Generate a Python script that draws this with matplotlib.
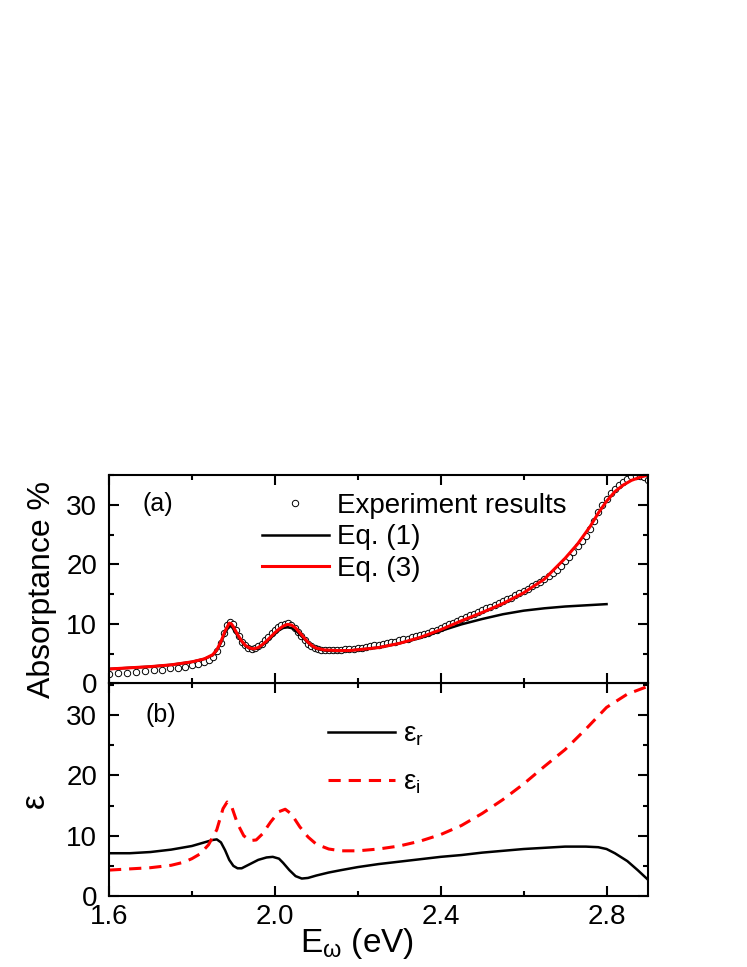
import matplotlib
matplotlib.use("Agg")
import matplotlib.pyplot as plt
from matplotlib.ticker import MultipleLocator

plt.rcParams['font.family'] = ['Liberation Sans', 'DejaVu Sans']
plt.rcParams['mathtext.fontset'] = 'custom'
plt.rcParams['mathtext.rm'] = 'Liberation Sans'
plt.rcParams['mathtext.it'] = 'Liberation Sans:italic'

# ---------------- data: panel (a) ----------------
E_exp = [1.600, 1.622, 1.644, 1.666, 1.688, 1.708, 1.728, 1.748, 1.766, 1.784,
         1.800, 1.815, 1.828, 1.840, 1.851, 1.861, 1.870, 1.878, 1.885, 1.892,
         1.899, 1.906, 1.913, 1.920, 1.928, 1.936, 1.944, 1.952, 1.960, 1.968,
         1.976, 1.984, 1.992, 2.000, 2.008, 2.016, 2.024, 2.032, 2.040, 2.048,
         2.056, 2.064, 2.072, 2.080, 2.088, 2.096, 2.104, 2.112,
         2.12, 2.13, 2.14, 2.15, 2.16, 2.17, 2.18, 2.19, 2.20, 2.21,
         2.22, 2.23, 2.24, 2.25, 2.26, 2.27, 2.28, 2.29, 2.30, 2.31,
         2.32, 2.33, 2.34, 2.35, 2.36, 2.37, 2.38, 2.39, 2.40, 2.41,
         2.42, 2.43, 2.44, 2.45, 2.46, 2.47, 2.48, 2.49, 2.50, 2.51,
         2.52, 2.53, 2.54, 2.55, 2.56, 2.57, 2.58, 2.59, 2.60, 2.61,
         2.62, 2.63, 2.64, 2.65, 2.66, 2.67, 2.68, 2.69, 2.70, 2.71,
         2.72, 2.73, 2.74, 2.75, 2.76, 2.77, 2.78, 2.79, 2.80, 2.81,
         2.82, 2.83, 2.84, 2.85, 2.86, 2.87, 2.88, 2.89, 2.90]
A_exp = [1.6, 1.7, 1.8, 1.9, 2.0, 2.2, 2.3, 2.5, 2.6, 2.8,
         3.0, 3.2, 3.5, 3.9, 4.5, 5.4, 6.8, 8.5, 9.8, 10.3,
         9.9, 8.9, 7.9, 7.0, 6.4, 6.0, 5.8, 5.9, 6.2, 6.6,
         7.2, 7.8, 8.5, 9.0, 9.5, 9.8, 10.0, 10.1, 9.8, 9.3,
         8.6, 7.9, 7.2, 6.6, 6.2, 5.9, 5.7, 5.6,
         5.6, 5.6, 5.6, 5.6, 5.6, 5.7, 5.7, 5.8, 5.9, 6.0,
         6.1, 6.2, 6.4, 6.5, 6.6, 6.8, 6.9, 7.0, 7.2, 7.4,
         7.5, 7.7, 7.9, 8.1, 8.3, 8.5, 8.8, 9.0, 9.3, 9.6,
         9.9, 10.2, 10.5, 10.8, 11.1, 11.4, 11.7, 12.0, 12.3, 12.6,
         12.9, 13.2, 13.5, 13.8, 14.1, 14.4, 14.8, 15.2, 15.5, 15.9,
         16.3, 16.7, 17.1, 17.5, 18.0, 18.5, 19.1, 19.7, 20.5, 21.3,
         22.1, 23.0, 23.9, 24.8, 25.9, 27.2, 28.8, 30.0, 31.0, 31.9,
         32.6, 33.3, 33.9, 34.4, 34.8, 34.9, 34.8, 34.6, 34.1]

E_eq3 = [1.60, 1.65, 1.70, 1.75, 1.80, 1.83, 1.85, 1.86, 1.87, 1.88,
         1.89, 1.895, 1.90, 1.91, 1.92, 1.93, 1.94, 1.95, 1.96, 1.97,
         1.98, 1.99, 2.00, 2.01, 2.02, 2.03, 2.04, 2.05, 2.06, 2.07,
         2.08, 2.09, 2.10, 2.12, 2.15, 2.18, 2.21, 2.25, 2.30, 2.35,
         2.40, 2.45, 2.50, 2.55, 2.60, 2.65, 2.70, 2.73, 2.76, 2.78,
         2.80, 2.82, 2.84, 2.86, 2.88, 2.90]
A_eq3 = [2.4, 2.6, 2.8, 3.1, 3.6, 4.1, 4.8, 5.6, 7.0, 8.8,
         10.1, 10.0, 9.5, 8.2, 7.1, 6.3, 5.9, 5.8, 6.0, 6.5,
         7.1, 7.8, 8.5, 9.1, 9.6, 9.9, 9.8, 9.3, 8.5, 7.7,
         6.9, 6.3, 5.9, 5.6, 5.5, 5.5, 5.7, 6.0, 6.7, 7.7,
         9.0, 10.5, 11.9, 13.4, 15.2, 17.5, 21.0, 23.4, 26.3, 28.6,
         30.6, 32.2, 33.3, 34.1, 34.6, 35.0]

E_eq1 = [1.60, 1.65, 1.70, 1.75, 1.80, 1.83, 1.85, 1.86, 1.87, 1.88,
         1.89, 1.895, 1.90, 1.91, 1.92, 1.93, 1.94, 1.95, 1.96, 1.97,
         1.98, 1.99, 2.00, 2.01, 2.02, 2.03, 2.04, 2.05, 2.06, 2.07,
         2.08, 2.09, 2.10, 2.12, 2.15, 2.18, 2.21, 2.25, 2.30, 2.35,
         2.40, 2.45, 2.50, 2.55, 2.60, 2.65, 2.70, 2.75, 2.80]
A_eq1 = [2.4, 2.6, 2.8, 3.1, 3.6, 4.1, 4.7, 5.5, 6.8, 8.5,
         9.6, 9.6, 9.1, 8.0, 7.0, 6.2, 5.8, 5.7, 5.9, 6.4,
         7.0, 7.6, 8.3, 8.9, 9.3, 9.4, 9.3, 8.9, 8.2, 7.5,
         6.8, 6.2, 5.8, 5.5, 5.4, 5.5, 5.7, 6.0, 6.7, 7.6,
         8.8, 9.9, 10.8, 11.6, 12.2, 12.6, 12.9, 13.1, 13.3]

# ---------------- data: panel (b) ----------------
E_r = [1.60, 1.65, 1.70, 1.75, 1.80, 1.83, 1.85, 1.86, 1.87, 1.88,
       1.89, 1.90, 1.91, 1.92, 1.94, 1.96, 1.98, 1.995, 2.01, 2.02,
       2.035, 2.05, 2.065, 2.08, 2.10, 2.13, 2.16, 2.20, 2.25, 2.30,
       2.35, 2.40, 2.45, 2.50, 2.55, 2.60, 2.65, 2.70, 2.75, 2.78,
       2.80, 2.82, 2.85, 2.875, 2.90]
eps_r = [7.1, 7.1, 7.3, 7.7, 8.3, 8.9, 9.3, 9.4, 8.9, 7.6,
         6.0, 5.0, 4.6, 4.6, 5.3, 6.0, 6.4, 6.5, 6.2, 5.5,
         4.3, 3.3, 2.9, 3.0, 3.4, 3.9, 4.3, 4.8, 5.3, 5.7,
         6.1, 6.5, 6.8, 7.2, 7.5, 7.8, 8.0, 8.2, 8.2, 8.1,
         7.8, 7.1, 5.8, 4.3, 2.7]

E_i = [1.60, 1.65, 1.70, 1.75, 1.78, 1.80, 1.82, 1.84, 1.86, 1.875,
       1.885, 1.895, 1.91, 1.925, 1.94, 1.955, 1.97, 1.99, 2.01, 2.025,
       2.04, 2.06, 2.08, 2.10, 2.13, 2.16, 2.20, 2.25, 2.30, 2.35,
       2.40, 2.45, 2.50, 2.55, 2.60, 2.65, 2.70, 2.75, 2.80, 2.85,
       2.90]
eps_i = [4.3, 4.5, 4.7, 5.1, 5.6, 6.2, 7.0, 8.5, 11.0, 14.5,
         15.6, 15.0, 12.0, 10.0, 9.2, 9.3, 10.3, 12.3, 14.0, 14.4,
         13.6, 11.5, 9.8, 8.6, 7.8, 7.5, 7.5, 7.8, 8.3, 9.1,
         10.2, 11.7, 13.7, 16.0, 18.6, 21.5, 24.3, 27.7, 31.3, 33.5,
         34.8]

xticks = [1.6, 2.0, 2.4, 2.8]
xtick_labels = ['1.6', '2.0', '2.4', '2.8']
yticks = [0, 10, 20, 30]

# ---------------- figure ----------------
fig = plt.figure(figsize=(7.47, 9.67), dpi=100)
L, W = 0.1459, 0.7216
ax_b = fig.add_axes([L, 0.0734, W, 0.2200])
ax_a = fig.add_axes([L, 0.2934, W, 0.2154])

for ax in (ax_a, ax_b):
    ax.set_xlim(1.6, 2.9)
    ax.set_xticks(xticks)
    ax.xaxis.set_minor_locator(MultipleLocator(0.2))
    ax.set_yticks(yticks)
    ax.yaxis.set_minor_locator(MultipleLocator(5))
    ax.tick_params(which='both', direction='in', top=True, right=True,
                   width=1.5, labelsize=20)
    ax.tick_params(which='major', length=7)
    ax.tick_params(which='minor', length=3.5)
    ax.tick_params(axis='y', pad=8.5)
    ax.tick_params(axis='x', pad=6)
    for s in ax.spines.values():
        s.set_linewidth(1.5)

ax_a.set_ylim(0, 35)
ax_b.set_ylim(0, 35.3)
ax_a.tick_params(labelbottom=False)
ax_b.set_xticklabels(xtick_labels)

# panel (a)
ax_a.plot(E_exp, A_exp, linestyle='none', marker='o', markersize=4.6,
          markerfacecolor='white', markeredgecolor='black', markeredgewidth=0.7,
          label='Experiment results')
ax_a.plot(E_eq1, A_eq1, color='black', lw=1.8, label='Eq. (1)')
ax_a.plot(E_eq3, A_eq3, color='#ff0000', lw=2.2, label='Eq. (3)')
ax_a.legend(loc='center left', bbox_to_anchor=(0.284, 0.700), frameon=False,
            fontsize=20, handlelength=2.4, handletextpad=0.3, labelspacing=0.2,
            borderpad=0, borderaxespad=0, numpoints=1)
ax_a.text(0.062, 0.86, '(a)', transform=ax_a.transAxes, fontsize=18,
          ha='left', va='center')

# panel (b)
ax_b.plot(E_r, eps_r, color='black', lw=1.8, label='ε$_\\mathregular{r}$')
ax_b.plot(E_i, eps_i, color='#ff0000', lw=2.2, dashes=(4, 2.6),
          label='ε$_\\mathregular{i}$')
ax_b.legend(loc='center left', bbox_to_anchor=(0.406, 0.644), frameon=False,
            fontsize=20, handlelength=2.4, handletextpad=0.3, labelspacing=0.78,
            borderpad=0, borderaxespad=0)
ax_b.text(0.068, 0.85, '(b)', transform=ax_b.transAxes, fontsize=18,
          ha='left', va='center')

# axis labels
fig.text(42 / 747, 1 - 590 / 967, 'Absorptance %', rotation=90, fontsize=23,
         ha='center', va='center')
fig.text(35 / 747, 1 - 801 / 967, 'ε', rotation=90, fontsize=24,
         ha='center', va='center')
fig.text(300 / 747, 1 - 952 / 967, 'E$_\\mathregular{ω}$ (eV)', fontsize=24,
         ha='left', va='baseline')

fig.savefig('out.png', dpi=100)
